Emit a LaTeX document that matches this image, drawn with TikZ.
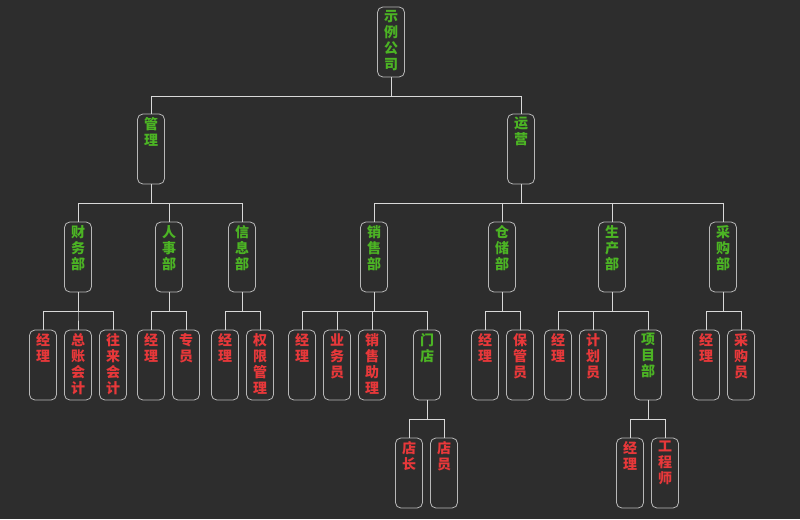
\documentclass[tikz,border=0pt]{standalone}
\usepackage{fontspec}
\newfontfamily\cjk{Noto Sans CJK SC}
\definecolor{bg}{HTML}{2D2D2D}
\definecolor{dept}{HTML}{4CB424}
\definecolor{staff}{HTML}{E8383A}
\definecolor{edge}{HTML}{D8D8D8}
\newcommand{\vtext}[1]{\parbox[c][52.5pt][t]{20.25pt}{\centering\cjk\fontsize{10.5}{12}\selectfont\vspace{2.5pt}#1}}
\begin{document}
\begin{tikzpicture}[x=0.75pt,y=-0.75pt,
    box/.style={draw=edge!85!black,rounded corners=4pt,inner sep=0pt,line width=0.6pt,font=\bfseries},
    unit/.style={box,text=dept},
    leaf/.style={box,text=staff},
    link/.style={draw=edge,line width=0.7pt}]
  \fill[bg] (0,0) rectangle (800,519);
  \useasboundingbox (0,0) rectangle (800,519);
  % top levels
  \node[unit] (co) at (391,42) {\vtext{示\\例\\公\\司}};
  \node[unit] (gl) at (151,149) {\vtext{管\\理}};
  \node[unit] (yy) at (521,149) {\vtext{运\\营}};
  % departments
  \node[unit] (cw) at (78,257) {\vtext{财\\务\\部}};
  \node[unit] (rs) at (169,257) {\vtext{人\\事\\部}};
  \node[unit] (xx) at (242,257) {\vtext{信\\息\\部}};
  \node[unit] (xs) at (374,257) {\vtext{销\\售\\部}};
  \node[unit] (cc) at (502,257) {\vtext{仓\\储\\部}};
  \node[unit] (sc) at (612,257) {\vtext{生\\产\\部}};
  \node[unit] (cg) at (723,257) {\vtext{采\\购\\部}};
  % staff
  \node[leaf] (cw1) at (43,365) {\vtext{经\\理}};
  \node[leaf] (cw2) at (78,365) {\vtext{总\\账\\会\\计}};
  \node[leaf] (cw3) at (113,365) {\vtext{往\\来\\会\\计}};
  \node[leaf] (rs1) at (151,365) {\vtext{经\\理}};
  \node[leaf] (rs2) at (186,365) {\vtext{专\\员}};
  \node[leaf] (xx1) at (225,365) {\vtext{经\\理}};
  \node[leaf] (xx2) at (260,365) {\vtext{权\\限\\管\\理}};
  \node[leaf] (xs1) at (302,365) {\vtext{经\\理}};
  \node[leaf] (xs2) at (337,365) {\vtext{业\\务\\员}};
  \node[leaf] (xs3) at (372,365) {\vtext{销\\售\\助\\理}};
  \node[unit] (md) at (427,365) {\vtext{门\\店}};
  \node[leaf] (cc1) at (485,365) {\vtext{经\\理}};
  \node[leaf] (cc2) at (520,365) {\vtext{保\\管\\员}};
  \node[leaf] (sc1) at (558,365) {\vtext{经\\理}};
  \node[leaf] (sc2) at (593,365) {\vtext{计\\划\\员}};
  \node[unit] (xm) at (648,365) {\vtext{项\\目\\部}};
  \node[leaf] (cg1) at (706,365) {\vtext{经\\理}};
  \node[leaf] (cg2) at (741,365) {\vtext{采\\购\\员}};
  \node[leaf] (md1) at (409,473) {\vtext{店\\长}};
  \node[leaf] (md2) at (444,473) {\vtext{店\\员}};
  \node[leaf] (xm1) at (630,473) {\vtext{经\\理}};
  \node[leaf] (xm2) at (665,473) {\vtext{工\\程\\师}};
  % connectors
  \foreach \p/\c in {co/gl,co/yy,
      gl/cw,gl/rs,gl/xx,yy/xs,yy/cc,yy/sc,yy/cg,
      cw/cw1,cw/cw2,cw/cw3,rs/rs1,rs/rs2,xx/xx1,xx/xx2,
      xs/xs1,xs/xs2,xs/xs3,xs/md,cc/cc1,cc/cc2,
      sc/sc1,sc/sc2,sc/xm,cg/cg1,cg/cg2,
      md/md1,md/md2,xm/xm1,xm/xm2}
    \draw[link] (\p.south) -- ++(0,19.5) -| (\c.north);
\end{tikzpicture}
\end{document}
